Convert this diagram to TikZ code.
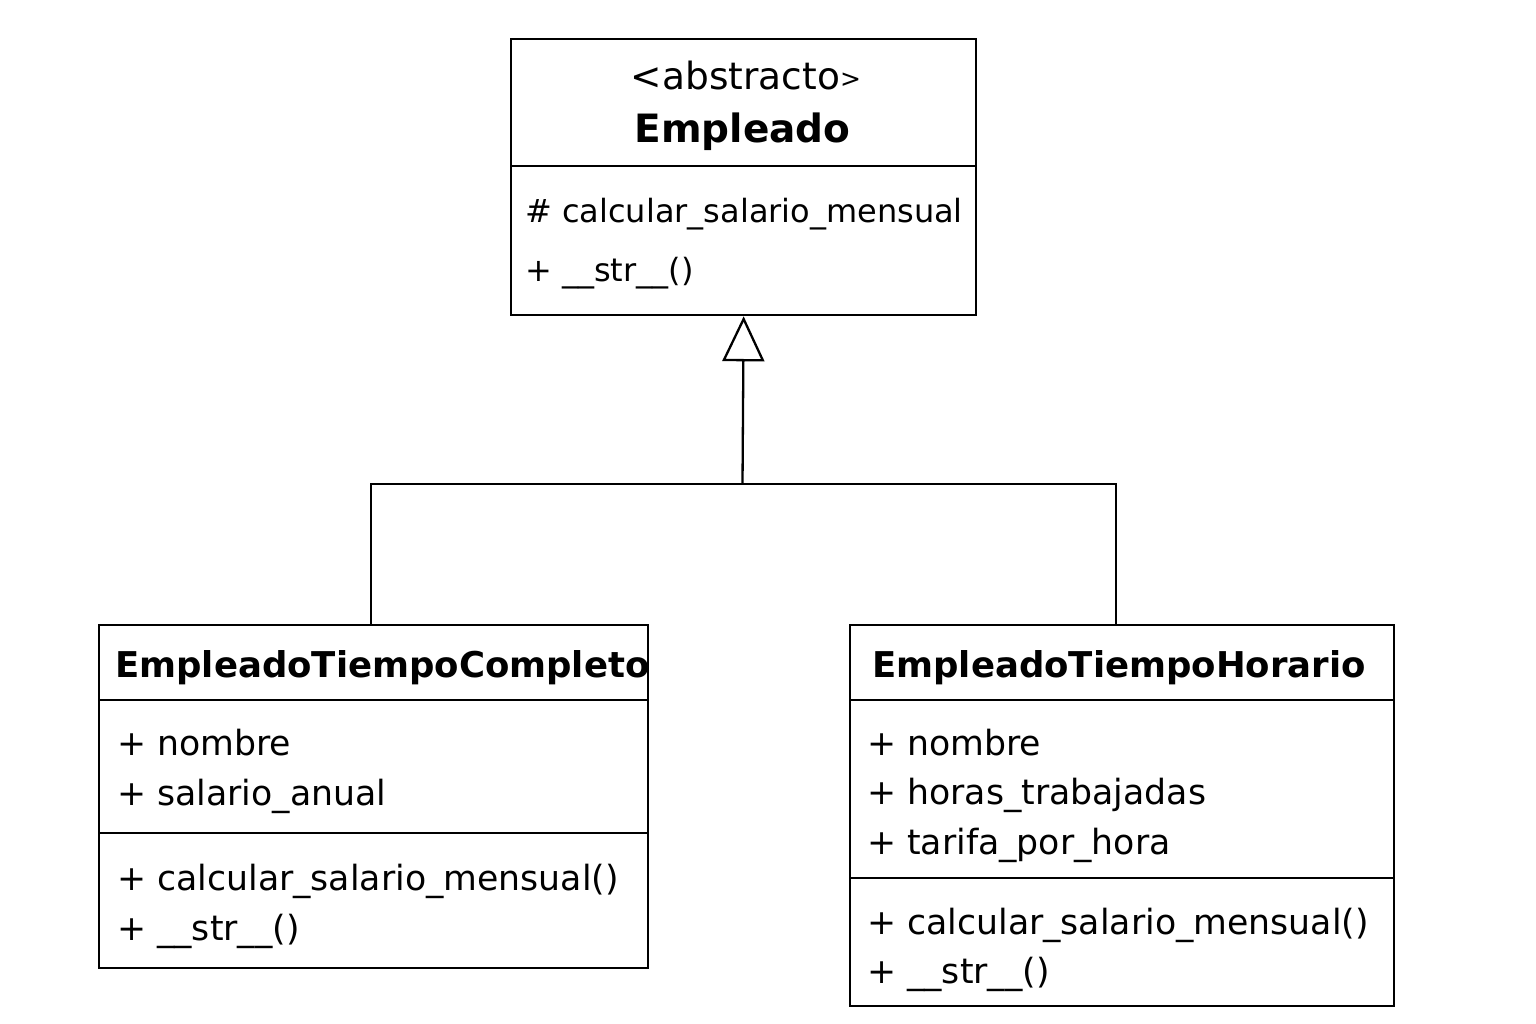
\documentclass[tikz,border=0pt]{standalone}
\usepackage{fontspec}
\setmainfont{DejaVu Sans}
\usetikzlibrary{arrows.meta}
\tikzset{
  umlbox/.style={draw=black, line width=2.3pt, fill=white, inner sep=0pt, anchor=north west},
  divider/.style={line width=2.3pt},
  conn/.style={line width=2.3pt},
  mtxt/.style={anchor=base west, inner sep=0pt, font=\fontsize{34.7}{40}\selectfont},
  ttxt/.style={anchor=base west, inner sep=0pt, font=\fontsize{32}{38}\selectfont},
  ctitle/.style={anchor=base west, inner sep=0pt, font=\fontsize{35.5}{42}\selectfont\bfseries},
}
\begin{document}
\begin{tikzpicture}[x=1pt,y=1pt]
\useasboundingbox (0,0) rectangle (1536,-1024);
\fill[white] (0,0) rectangle (1536,-1024);

% Empleado
\node[umlbox, minimum width=465pt, minimum height=276pt] (emp) at (510,-38) {};
\draw[divider] (510,-166) -- (975,-166);
\node[anchor=base, inner sep=0pt] (emps) at (746,-90) {\fontsize{37.5}{42}\selectfont <abstracto\raisebox{2pt}{\fontsize{25}{30}\selectfont >}};
\node[anchor=base, inner sep=0pt, font=\fontsize{39}{46}\selectfont\bfseries] (empn) at (742.5,-143) {Empleado};
\node[ttxt] (empm1) at (525,-223) {\# calcular\_salario\_mensual};
\node[ttxt] (empm2) at (525,-281) {+ \_\_str\_\_()};

% EmpleadoTiempoCompleto
\node[umlbox, minimum width=549pt, minimum height=343pt] (etc) at (98,-624) {};
\draw[divider] (98,-700) -- (647,-700);
\draw[divider] (98,-833) -- (647,-833);
\node[ctitle] (etcn) at (115,-677) {EmpleadoTiempoCompleto};
\node[mtxt] (etca1) at (117,-755) {+ nombre};
\node[mtxt] (etca2) at (117,-805) {+ salario\_anual};
\node[mtxt] (etcm1) at (117,-890) {+ calcular\_salario\_mensual()};
\node[mtxt] (etcm2) at (117,-940) {+ \_\_str\_\_()};

% EmpleadoTiempoHorario
\node[umlbox, minimum width=544pt, minimum height=381pt] (eth) at (849,-624) {};
\draw[divider] (849,-700) -- (1393,-700);
\draw[divider] (849,-878) -- (1393,-878);
\node[ctitle] (ethn) at (872,-677) {EmpleadoTiempoHorario};
\node[mtxt] (etha1) at (867,-755) {+ nombre};
\node[mtxt] (etha2) at (867,-804) {+ horas\_trabajadas};
\node[mtxt] (etha3) at (867,-854) {+ tarifa\_por\_hora};
\node[mtxt] (ethm1) at (867,-934) {+ calcular\_salario\_mensual()};
\node[mtxt] (ethm2) at (867,-983) {+ \_\_str\_\_()};

% Generalization
\coordinate (j) at (742.5,-484);
\coordinate (lt) at (371,-624);
\coordinate (rt) at (1116,-624);
\draw[conn, -{Triangle[open, length=45pt, width=42pt, line width=2.3pt, fill=white]}] (j) -- (emp.south);
\draw[conn] (lt) |- (j) -| (rt);
\end{tikzpicture}
\end{document}
